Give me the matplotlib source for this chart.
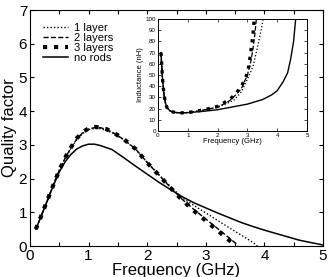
import matplotlib
matplotlib.use('Agg')
import matplotlib.pyplot as plt
import numpy as np

plt.rcParams['font.family'] = ['Liberation Sans', 'DejaVu Sans']

# main plot: quality factor vs frequency
f_norods = [0.1, 0.2, 0.3, 0.4, 0.5, 0.6, 0.7, 0.8, 0.9, 1.0, 1.1, 1.2, 1.4, 1.6, 1.8, 2.0,
            2.2, 2.4, 2.6, 2.8, 3.0, 3.2, 3.4, 3.6, 3.8, 4.0, 4.2, 4.4, 4.6, 4.8, 5.0]
q_norods = [0.5, 0.93, 1.36, 1.8, 2.2, 2.5, 2.72, 2.88, 2.97, 3.02, 3.02, 2.98, 2.86, 2.62, 2.37, 2.13,
            1.89, 1.67, 1.46, 1.28, 1.13, 0.98, 0.84, 0.7, 0.58, 0.47, 0.37, 0.27, 0.17, 0.1, 0.03]

f_1layer = [0.1, 0.2, 0.3, 0.4, 0.5, 0.6, 0.7, 0.8, 0.9, 1.0, 1.1, 1.2, 1.3, 1.4, 1.6, 1.8, 2.0,
            2.2, 2.4, 2.6, 2.8, 3.0, 3.2, 3.4, 3.6, 3.8, 3.88]
q_1layer = [0.5, 0.93, 1.37, 1.82, 2.24, 2.6, 2.9, 3.16, 3.34, 3.45, 3.49, 3.48, 3.43, 3.36, 3.15, 2.87, 2.48,
            2.12, 1.76, 1.43, 1.2, 0.98, 0.76, 0.54, 0.33, 0.11, 0.0]

f_2layers = [0.1, 0.2, 0.3, 0.4, 0.5, 0.6, 0.7, 0.8, 0.9, 1.0, 1.1, 1.2, 1.3, 1.4, 1.6, 1.8, 2.0,
             2.2, 2.4, 2.6, 2.8, 3.0, 3.2, 3.4, 3.55]
q_2layers = [0.5, 0.93, 1.37, 1.82, 2.25, 2.61, 2.92, 3.18, 3.36, 3.47, 3.51, 3.51, 3.46, 3.38, 3.16, 2.88, 2.48,
             2.1, 1.73, 1.38, 1.08, 0.8, 0.52, 0.24, 0.02]

f_3layers = [0.1, 0.2, 0.3, 0.4, 0.5, 0.6, 0.7, 0.8, 0.9, 1.0, 1.1, 1.2, 1.3, 1.4, 1.6, 1.8, 2.0,
             2.2, 2.4, 2.6, 2.8, 3.0, 3.2, 3.4, 3.5]
q_3layers = [0.5, 0.93, 1.37, 1.82, 2.25, 2.62, 2.93, 3.2, 3.38, 3.49, 3.53, 3.52, 3.47, 3.39, 3.17, 2.88, 2.47,
             2.1, 1.72, 1.36, 1.04, 0.75, 0.46, 0.17, 0.02]

# inset: inductance vs frequency
fi_norods = [0.1, 0.15, 0.2, 0.25, 0.3, 0.4, 0.5, 0.6, 0.8, 1.0, 1.5, 2.0, 2.5, 3.0, 3.5, 3.8, 4.0,
             4.2, 4.35, 4.45, 4.55, 4.62]
L_norods = [70, 47, 33, 25, 21, 18, 17, 16.5, 16.2, 16.4, 17.5, 19, 21.5, 24, 28, 32, 36,
            44, 52, 64, 80, 100]

fi_1layer = [0.1, 0.15, 0.2, 0.25, 0.3, 0.4, 0.5, 0.6, 0.8, 1.0, 1.5, 2.0, 2.3, 2.57, 2.8, 2.96,
             3.1, 3.2, 3.34, 3.46, 3.53]
L_1layer = [70, 47, 33, 25, 21, 18, 17, 16.5, 16.2, 16.5, 18.5, 21, 24.5, 28, 35, 44,
            52, 59, 75, 90, 100]

fi_2layers = [0.1, 0.15, 0.2, 0.25, 0.3, 0.4, 0.5, 0.6, 0.8, 1.0, 1.2, 1.5, 1.8, 2.0, 2.2, 2.4, 2.6,
              2.8, 3.0, 3.1, 3.18, 3.25, 3.3]
L_2layers = [70, 47, 33, 25, 21, 18, 17, 16.5, 16.2, 16.5, 17.1, 18.6, 20.2, 21.6, 24, 27, 32,
             38, 50, 60, 72, 86, 100]

fi_3layers = [0.1, 0.15, 0.2, 0.25, 0.3, 0.4, 0.5, 0.6, 0.8, 1.0, 1.2, 1.5, 1.8, 2.0, 2.2, 2.4, 2.6,
              2.8, 2.95, 3.05, 3.12, 3.18, 3.23]
L_3layers = [70, 47, 33, 25, 21, 18, 17, 16.5, 16.2, 16.5, 17.2, 18.8, 20.5, 22, 25, 28, 33,
             40, 48, 58, 72, 84, 100]

fig = plt.figure(figsize=(3.28, 2.77), dpi=100)
ax = fig.add_axes([30/328, 31/277, 293/328, 236/277])

ax.plot(f_1layer, q_1layer, color='k', ls=(0, (1, 1.5)), lw=1.0, label='1 layer')
ax.plot(f_2layers, q_2layers, color='k', ls='--', lw=1.0, label='2 layers')
ax.plot(f_3layers, q_3layers, color='k', ls=':', lw=3.0, label='3 layers')
ax.plot(f_norods, q_norods, color='k', ls='-', lw=1.1, label='no rods')

ax.set_xlim(0, 5)
ax.set_ylim(0, 7)
ax.set_xticks(np.arange(0, 5.01, 0.5))
ax.set_xticklabels(['0', '', '1', '', '2', '', '3', '', '4', '', '5'])
ax.set_yticks(range(0, 8))
ax.tick_params(direction='in', top=True, right=True, labelsize=11, length=3, pad=2)
ax.set_xlabel('Frequency (GHz)', fontsize=12, labelpad=0)
ax.set_ylabel('Quality factor', fontsize=12, labelpad=1)
ax.legend(loc='upper left', bbox_to_anchor=(0.0, 1.0), frameon=False, fontsize=8,
          handlelength=2.3, handletextpad=0.5, labelspacing=0.0, borderaxespad=0.75)

ins = fig.add_axes([158/328, (277-131)/277, 149/328, 112/277])
ins.plot(fi_1layer, L_1layer, color='k', ls=':', lw=0.9)
ins.plot(fi_2layers, L_2layers, color='k', ls='--', lw=0.9)
ins.plot(fi_3layers, L_3layers, color='k', ls=':', lw=2.4)
ins.plot(fi_norods, L_norods, color='k', ls='-', lw=1.0)
ins.set_xlim(0, 5)
ins.set_ylim(0, 100)
ins.set_xticks(range(0, 6))
ins.set_yticks(range(0, 101, 10))
ins.tick_params(direction='in', top=True, right=True, labelsize=4.5, length=2, pad=1.5, width=0.5)
ins.set_xlabel('Frequency (GHz)', fontsize=5.5, labelpad=0)
ins.set_ylabel('Inductance (nH)', fontsize=5.5, labelpad=1)
for s in ins.spines.values():
    s.set_linewidth(0.7)

fig.savefig('out.png', dpi=100)
